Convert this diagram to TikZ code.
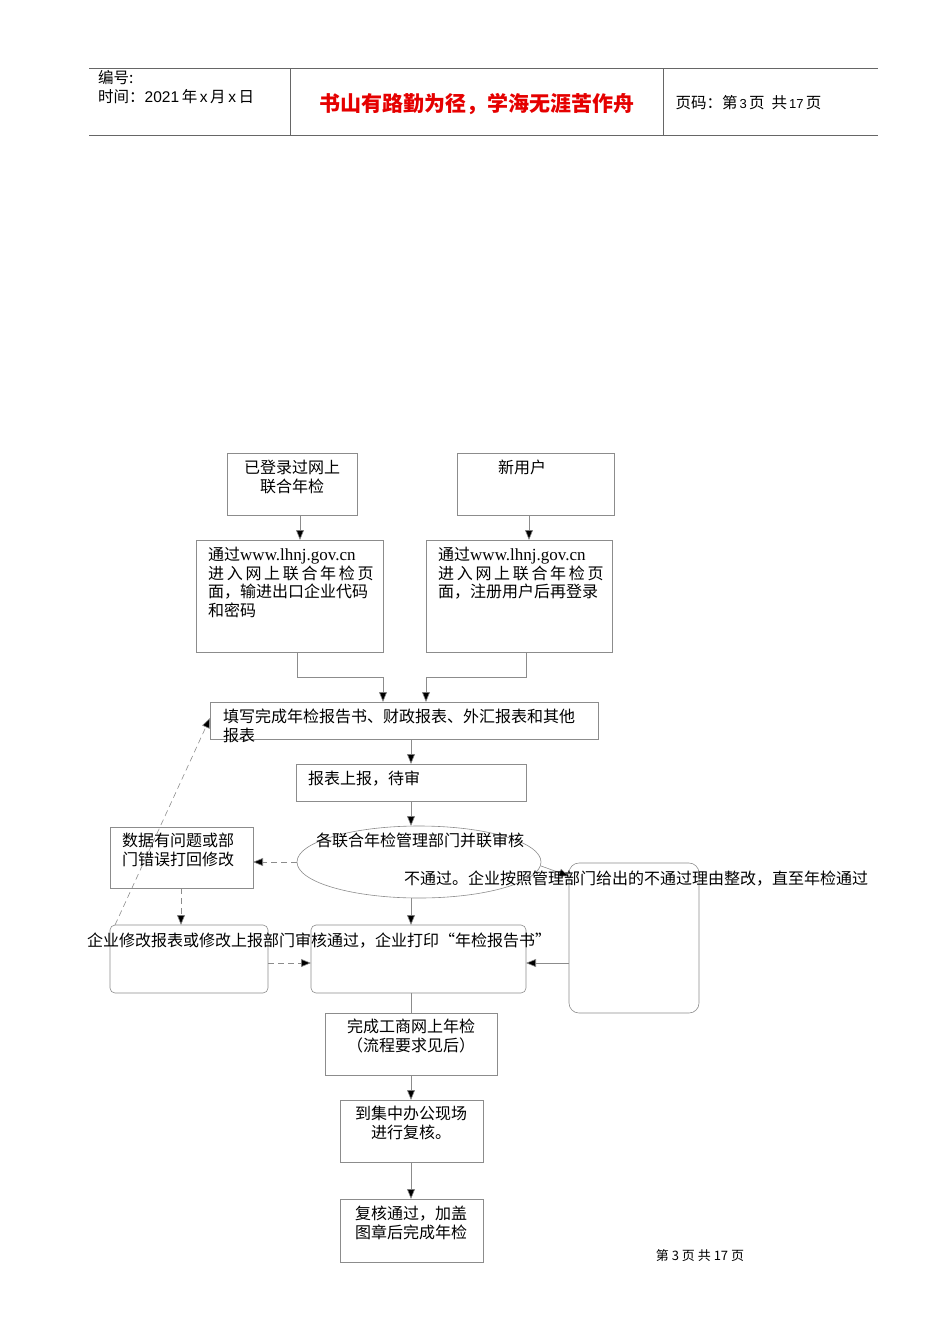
\documentclass[tikz,border=0pt]{standalone}
\usepackage{fontspec}
\setmainfont{Liberation Serif}
\newfontfamily\cjk{Noto Sans CJK SC}
\newfontfamily\hd{Liberation Sans}
\usetikzlibrary{arrows.meta}
\begin{document}
\begin{tikzpicture}[x=1pt,y=-1pt,
  bx/.style={draw=black!45,line width=0.6pt},
  ln/.style={draw=black!45,line width=0.6pt},
  ar/.style={ln,-{Triangle[length=10pt,width=8pt,fill=black]}},
  da/.style={ar,dash pattern=on 6pt off 4pt},
  tx/.style={font=\cjk\fontsize{16}{18.5}\selectfont,inner sep=0pt,anchor=north west,align=left},
  tc/.style={tx,anchor=north,align=center}]
\useasboundingbox (0,0) rectangle (950,1344);
% header
\draw[line width=0.8pt,black!60] (89,68) -- (878,68) (89,135) -- (878,135) (290,68) -- (290,135) (663,68) -- (663,135);
\node[tx,font=\cjk\fontsize{15.5}{19}\selectfont] (h1) at (98,70) {编号:\\时间：{\hd 2021}\,年\,{\hd x}\,月\,{\hd x}\,日};
\node[font=\cjk\bfseries\fontsize{21}{24}\selectfont,text=red!90!black] (h2) at (477,104) {书山有路勤为径，学海无涯苦作舟};
\node[font=\cjk\fontsize{15.5}{18}\selectfont,anchor=west] (h3) at (672,103) {页码：第{\hd\fontsize{13}{14}\selectfont\,3\,}页\ \ 共{\hd\fontsize{13}{14}\selectfont\,17\,}页};
% boxes
\draw[bx] (227,453) rectangle (357,515); \node[tc] (a) at (292,460) {已登录过网上\\联合年检};
\draw[bx] (457,453) rectangle (614,515); \node[tc] (b) at (522,460) {新用户};
\coordinate (a1) at (300,515); \coordinate (a2) at (300,540);
\coordinate (b1) at (529,515); \coordinate (b2) at (529,540);
\draw[ar] (a1) -- (a2); \draw[ar] (b1) -- (b2);
\draw[bx] (196,540) rectangle (383,652);
\node[tx] (c) at (208,547) {通过{\rmfamily\fontsize{17}{18}\selectfont www.lhnj.gov.cn}\\进\,入\,网\,上\,联\,合\,年\,检\,页\\面，输进出口企业代码\\和密码};
\draw[bx] (426,540) rectangle (612,652);
\node[tx] (d) at (438,547) {通过{\rmfamily\fontsize{17}{18}\selectfont www.lhnj.gov.cn}\\进\,入\,网\,上\,联\,合\,年\,检\,页\\面，注册用户后再登录};
\coordinate (c1) at (297,652); \coordinate (c2) at (383,702);
\coordinate (d1) at (526,652); \coordinate (d2) at (426,702);
\draw[ar] (c1) |- (383,677) -- (c2);
\draw[ar] (d1) |- (426,677) -- (d2);
\draw[bx] (210,702) rectangle (598,739);
\node[tx] (e) at (223,709) {填写完成年检报告书、财政报表、外汇报表和其他\\报表};
\draw[ar] (411,739) -- (411,764);
\draw[bx] (296,764) rectangle (526,801);
\node[tx] (f) at (308,771) {报表上报，待审};
\draw[ar] (411,801) -- (411,826);
\draw[bx] (419,862) ellipse [x radius=122,y radius=36];
\node[tx] (g) at (316,833) {各联合年检管理部门并联审核};
\draw[bx] (110,827) rectangle (253,888);
\node[tx] (k) at (122,833) {数据有问题或部\\门错误打回修改};
\draw[da] (297,862) -- (253,862);
\draw[da] (181,888) -- (181,925);
\draw[bx,rounded corners=5pt] (110,925) rectangle (268,993);
\draw[bx,rounded corners=5pt] (311,925) rectangle (526,993);
\draw[bx,rounded corners=10pt] (569,863) rectangle (699,1013);
\draw[ar] (411,898) -- (411,925);
\draw[da] (268,963) -- (311,963);
\draw[da] (115,925) -- (210,718);
\draw[ar] (541,866) -- (569,876);
\draw[ar] (569,963) -- (526,963);
\node[tx] (m) at (87,933) {企业修改报表或修改上报部门审核通过，企业打印“年检报告书”};
\node[tx] (o) at (404,871) {不通过。企业按照管理部门给出的不通过理由整改，直至年检通过};
\draw[ln] (411,993) -- (411,1013);
\draw[bx] (325,1013) rectangle (497,1075);
\node[tc] (p) at (411,1019) {完成工商网上年检\\（流程要求见后）};
\draw[ar] (411,1075) -- (411,1100);
\draw[bx] (340,1100) rectangle (483,1162);
\node[tc] (q) at (411,1106) {到集中办公现场\\进行复核。};
\draw[ar] (411,1162) -- (411,1199);
\draw[bx] (340,1199) rectangle (483,1262);
\node[tc] (r) at (411,1206) {复核通过，加盖\\图章后完成年检};
\node[font=\cjk\fontsize{13}{14}\selectfont] (s) at (700,1256) {第\ 3\ 页\ 共\ 17\ 页};
\end{tikzpicture}
\end{document}
